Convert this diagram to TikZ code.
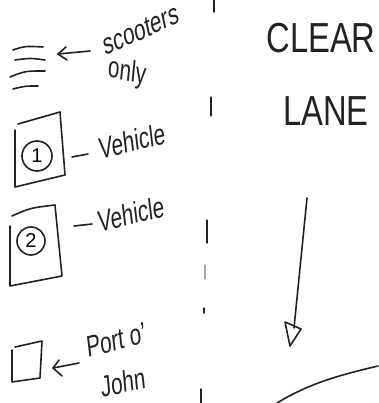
\documentclass[tikz,border=0pt]{standalone}
\usepackage{fontspec}
\setmainfont{Liberation Sans}
\definecolor{ink}{HTML}{222222}
\begin{document}
\begin{tikzpicture}[x=1pt,y=-1pt,
  pen/.style={draw=ink,line width=1.6pt,line cap=round,line join=round},
  thinpen/.style={draw=ink,line width=1.1pt,line cap=round},
  hand/.style={text=ink,inner sep=0pt,anchor=center},
  lbl/.style={hand,font=\fontsize{23}{25}\selectfont,yscale=1.3,xscale=0.9}]
\useasboundingbox (0,0) rectangle (378,403);
% dashed divider
\draw[thinpen] (214,0) -- (214,12);
\draw[thinpen] (211,97) -- (211,116);
\draw[thinpen] (207,220) -- (207,243);
\draw[thinpen,draw=ink!40] (205,265) -- (205,279);
\draw[thinpen] (204,308) -- (204,313);
\draw[thinpen] (201,389) -- (201,403);
% scooter lines
\draw[pen] (13,50) .. controls (25,46) .. (43,47);
\draw[pen] (15,60) .. controls (30,58) .. (45,60);
\draw[pen] (10,77) .. controls (25,71) .. (45,71);
\draw[pen] (13,89) .. controls (25,86) .. (38,86);
\coordinate (sa) at (90,51);
\coordinate (sb) at (58,54);
\draw[pen] (sa) -- (sb);
\draw[pen] (66,47) -- (sb) -- (67,60);
\node[lbl,rotate=17] (scoot) at (141,30) {scooters};
\node[lbl,rotate=-8] (only) at (127,73) {only};
% box 1
\draw[pen] (18,124) -- (60,112) -- (65,175) -- (15,187) -- (15,130);
\node[pen,circle,minimum size=30pt,inner sep=0pt,font=\fontsize{20}{20}\selectfont] (c1) at (37,156) {1};
\draw[pen] (72,157) -- (88,154);
\node[lbl,rotate=10] (v1) at (132,141) {Vehicle};
% box 2
\draw[pen] (12,216) .. controls (30,208) .. (55,205) -- (62,276) -- (10,286) -- (10,226);
\node[pen,circle,minimum size=28pt,inner sep=0pt,font=\fontsize{20}{20}\selectfont] (c2) at (31,241) {2};
\draw[pen] (74,226) -- (92,224);
\node[lbl,rotate=10] (v2) at (131,214) {Vehicle};
% port-o-john
\draw[pen] (15,347) -- (42,341) -- (40,378) -- (12,382) -- (12,350);
\coordinate (pa) at (79,363);
\coordinate (pb) at (53,368);
\draw[pen] (pa) -- (pb);
\draw[pen] (59,360) -- (pb) -- (62,376);
\node[lbl,rotate=10] (port) at (116,340) {Port o'};
\node[lbl,rotate=8] (john) at (123,382) {John};
% clear lane
\node[hand,font=\fontsize{42}{42}\selectfont,xscale=0.78] (clear) at (321,38) {CLEAR};
\node[hand,font=\fontsize{42}{42}\selectfont,xscale=0.78] (lane) at (326,111) {LANE};
% arrow
\coordinate (as) at (307,198);
\coordinate (ae) at (294,328);
\draw[pen] (as) -- (ae);
\draw[pen] (285,322) -- (301,329) -- (290,346) -- cycle;
% curve
\draw[pen] (277,403) .. controls (310,383) and (340,375) .. (378,366);
\end{tikzpicture}
\end{document}
